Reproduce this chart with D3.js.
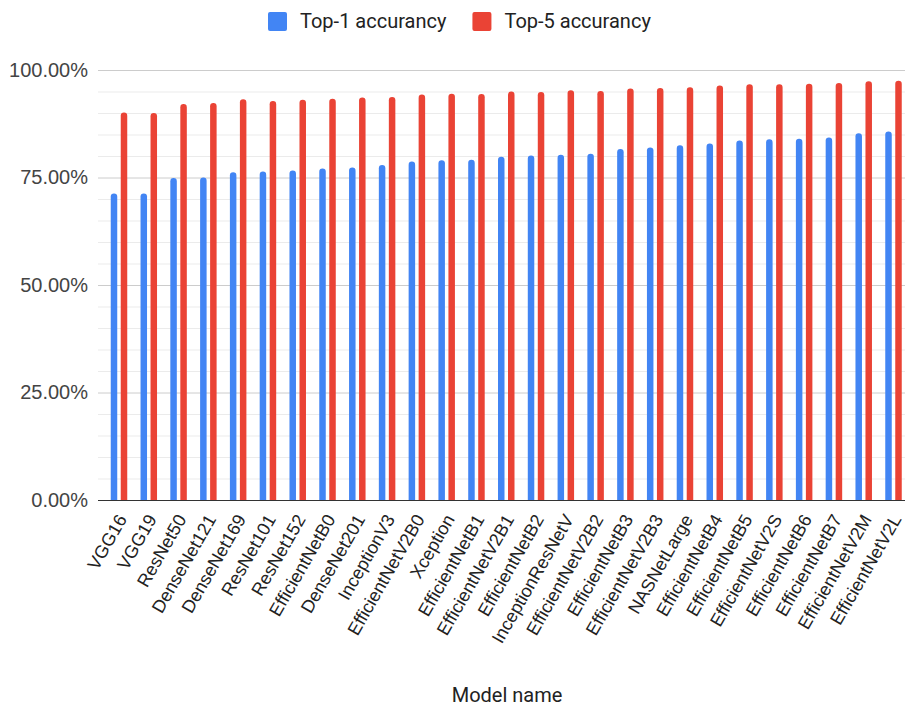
<!DOCTYPE html>
<html>
<head>
<meta charset="utf-8">
<script src="https://cdn.jsdelivr.net/npm/d3@7"></script>
<style>
  html, body { margin: 0; padding: 0; background: #fff; }
  svg { display: block; font-family: "Liberation Sans", Arial, sans-serif; }
</style>
</head>
<body>
<svg id="chart" width="905" height="708"></svg>
<script>
// Keras application models, sorted by top-1 accuracy (%)
const models = [
  "VGG16", "VGG19", "ResNet50", "DenseNet121", "DenseNet169", "ResNet101",
  "ResNet152", "EfficientNetB0", "DenseNet201", "InceptionV3", "EfficientNetV2B0",
  "Xception", "EfficientNetB1", "EfficientNetV2B1", "EfficientNetB2",
  "InceptionResNetV2", "EfficientNetV2B2", "EfficientNetB3", "EfficientNetV2B3",
  "NASNetLarge", "EfficientNetB4", "EfficientNetB5", "EfficientNetV2S",
  "EfficientNetB6", "EfficientNetB7", "EfficientNetV2M", "EfficientNetV2L"
];
const top1 = [
  71.3, 71.3, 74.9, 75.0, 76.2, 76.4, 76.6, 77.1, 77.3, 77.9, 78.7, 79.0, 79.1,
  79.8, 80.1, 80.3, 80.5, 81.6, 82.0, 82.5, 82.9, 83.6, 83.9, 84.0, 84.3, 85.3, 85.7
];
const top5 = [
  90.1, 90.0, 92.1, 92.3, 93.2, 92.8, 93.1, 93.3, 93.6, 93.7, 94.3, 94.5, 94.4,
  95.0, 94.9, 95.3, 95.1, 95.7, 95.8, 96.0, 96.4, 96.7, 96.7, 96.8, 97.0, 97.4, 97.5
];
const seriesNames = ["Top-1 accurancy", "Top-5 accurancy"];
const seriesColors = ["#4285F4", "#EA4335"];
const majorTicks = [0, 25, 50, 75, 100];
const minorTicks = d3.range(0, 101, 5);

const svg = d3.select("#chart");
const plot = { left: 98, right: 905, top: 70, bottom: 500 };

const x = d3.scaleBand().domain(models).range([104.1, 908.4]).padding(0);
const y = d3.scaleLinear().domain([0, 100]).range([plot.bottom, plot.top]);

// gridlines
svg.append("g").selectAll("line")
  .data(minorTicks.filter(t => !majorTicks.includes(t)))
  .join("line")
  .attr("x1", plot.left).attr("x2", plot.right)
  .attr("y1", d => y(d) + 0.5).attr("y2", d => y(d) + 0.5)
  .attr("stroke", "#ebebeb").attr("stroke-width", 1);
svg.append("g").selectAll("line")
  .data(majorTicks.filter(t => t > 0))
  .join("line")
  .attr("x1", plot.left).attr("x2", plot.right)
  .attr("y1", d => y(d) + 0.5).attr("y2", d => y(d) + 0.5)
  .attr("stroke", "#cccccc").attr("stroke-width", 1);

// y axis labels
const yAxis = d3.axisLeft(y).tickValues(majorTicks)
  .tickFormat(d => d3.format(".2f")(d) + "%").tickSize(0).tickPadding(10);
const yg = svg.append("g").attr("transform", `translate(${plot.left},0)`).call(yAxis);
yg.select(".domain").remove();
yg.selectAll("text").attr("font-size", 20).attr("fill", "#444")
  .attr("font-family", "'Liberation Sans', Arial, sans-serif");

// bars with rounded tops
const barW = 6.5, gap = 3.5;
function barPath(x0, w, yTop, yBot) {
  const r = Math.min(w / 2, 3.2);
  return `M${x0},${yBot}V${yTop + r}Q${x0},${yTop} ${x0 + r},${yTop}` +
         `H${x0 + w - r}Q${x0 + w},${yTop} ${x0 + w},${yTop + r}V${yBot}Z`;
}
[top1, top5].forEach((vals, si) => {
  svg.append("g").selectAll("path")
    .data(models)
    .join("path")
    .attr("fill", seriesColors[si])
    .attr("d", (m, i) => {
      const cx = x(m) + x.bandwidth() / 2;
      const x0 = si === 0 ? cx - gap / 2 - barW : cx + gap / 2;
      return barPath(x0, barW, y(vals[i]), y(0));
    });
});

// baseline
svg.append("line")
  .attr("x1", plot.left).attr("x2", plot.right)
  .attr("y1", y(0) + 0.5).attr("y2", y(0) + 0.5)
  .attr("stroke", "#333").attr("stroke-width", 1.2);

// x axis labels, slanted; long names are clipped to 16 characters
const maxChars = 16;
const xAxis = d3.axisBottom(x).tickSize(0).tickPadding(0)
  .tickFormat(d => d.length > maxChars ? d.slice(0, maxChars) : d);
const xg = svg.append("g").attr("transform", `translate(0,${y(0)})`).call(xAxis);
xg.select(".domain").remove();
xg.selectAll("text")
  .attr("font-size", 18).attr("fill", "#222")
  .attr("font-family", "'Liberation Sans', Arial, sans-serif")
  .attr("text-anchor", "end")
  .attr("dy", "0.35em")
  .attr("transform", "translate(3,16) rotate(-60)");

// axis title
svg.append("text")
  .attr("x", 507).attr("y", 702)
  .attr("text-anchor", "middle")
  .attr("font-size", 20).attr("fill", "#222")
  .attr("font-family", "Roboto, 'Liberation Sans', Arial, sans-serif")
  .text("Model name");

// legend
const legend = svg.append("g")
  .attr("font-family", "Roboto, 'Liberation Sans', Arial, sans-serif");
let lx = 268;
seriesNames.forEach((name, i) => {
  legend.append("rect")
    .attr("x", lx).attr("y", 12).attr("width", 19).attr("height", 19)
    .attr("rx", 2).attr("fill", seriesColors[i]);
  const t = legend.append("text")
    .attr("x", lx + 32).attr("y", 28)
    .attr("font-size", 20).attr("fill", "#222")
    .text(name);
  lx = lx + 32 + t.node().getComputedTextLength() + 26;
});
</script>
</body>
</html>
